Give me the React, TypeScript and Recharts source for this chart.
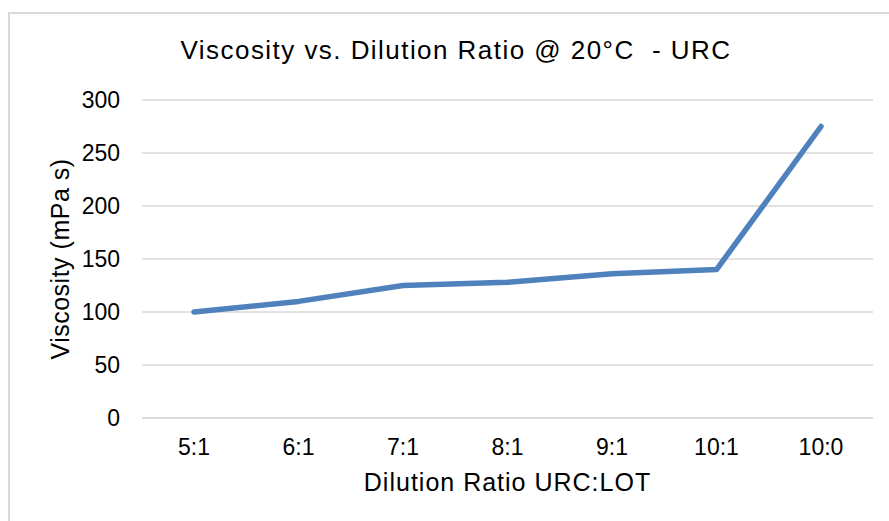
import { LineChart, Line, XAxis, YAxis, CartesianGrid, Label } from "recharts";

const ratios = ["5:1", "6:1", "7:1", "8:1", "9:1", "10:1", "10:0"];
const viscosity = [100, 110, 125, 128, 136, 140, 275];
const yTicks = [0, 50, 100, 150, 200, 250, 300];

const data = ratios.map((ratio, i) => ({ ratio, viscosity: viscosity[i] }));

const font = "'Liberation Sans', Arial, sans-serif";

export default function App() {
  return (
    <div style={{ position: "absolute", left: 0, top: 0, width: 889, height: 521, background: "#fff", fontFamily: font }}>
      <div
        style={{
          position: "absolute",
          left: 8,
          top: 12,
          width: 900,
          height: 530,
          borderLeft: "2px solid #d9d9d9",
          borderTop: "2px solid #d9d9d9",
        }}
      />
      <div
        style={{
          position: "absolute",
          left: 0,
          width: 912,
          top: 35,
          textAlign: "center",
          fontSize: 26,
          letterSpacing: 1.45,
          color: "#000",
          whiteSpace: "pre",
        }}
      >
        Viscosity vs. Dilution Ratio @ 20°C  - URC
      </div>
      <div style={{ position: "absolute", left: 0, top: 0 }}>
        <LineChart width={889} height={521} data={data} margin={{ top: 100, right: 16, bottom: 0, left: 72 }}>
          <CartesianGrid vertical={false} stroke="#d9d9d9" strokeWidth={1.5} />
          <XAxis
            dataKey="ratio"
            tickLine={false}
            axisLine={{ stroke: "#d9d9d9", strokeWidth: 1.5 }}
            tickSize={0}
            tickMargin={21}
            padding={{ left: 52, right: 52 }}
            tick={{ fill: "#000", fontSize: 23, fontFamily: font }}
            height={103}
          >
            <Label
              value="Dilution Ratio URC:LOT"
              position="insideTop"
              offset={55}
              style={{ fill: "#000", fontSize: 25, letterSpacing: 1.0, fontFamily: font }}
            />
          </XAxis>
          <YAxis
            domain={[0, 300]}
            ticks={yTicks}
            tickLine={false}
            axisLine={false}
            tickSize={0}
            tickMargin={22}
            width={70}
            tick={{ fill: "#000", fontSize: 23, fontFamily: font }}
          >
            <Label
              value="Viscosity (mPa s)"
              angle={-90}
              position="insideLeft"
              offset={-12}
              style={{ textAnchor: "middle", fill: "#000", fontSize: 25, letterSpacing: 0.5, fontFamily: font }}
            />
          </YAxis>
          <Line
            type="linear"
            dataKey="viscosity"
            stroke="#4f81bd"
            strokeWidth={5.5}
            strokeLinecap="round"
            strokeLinejoin="round"
            dot={false}
            activeDot={false}
            isAnimationActive={false}
          />
        </LineChart>
      </div>
    </div>
  );
}
